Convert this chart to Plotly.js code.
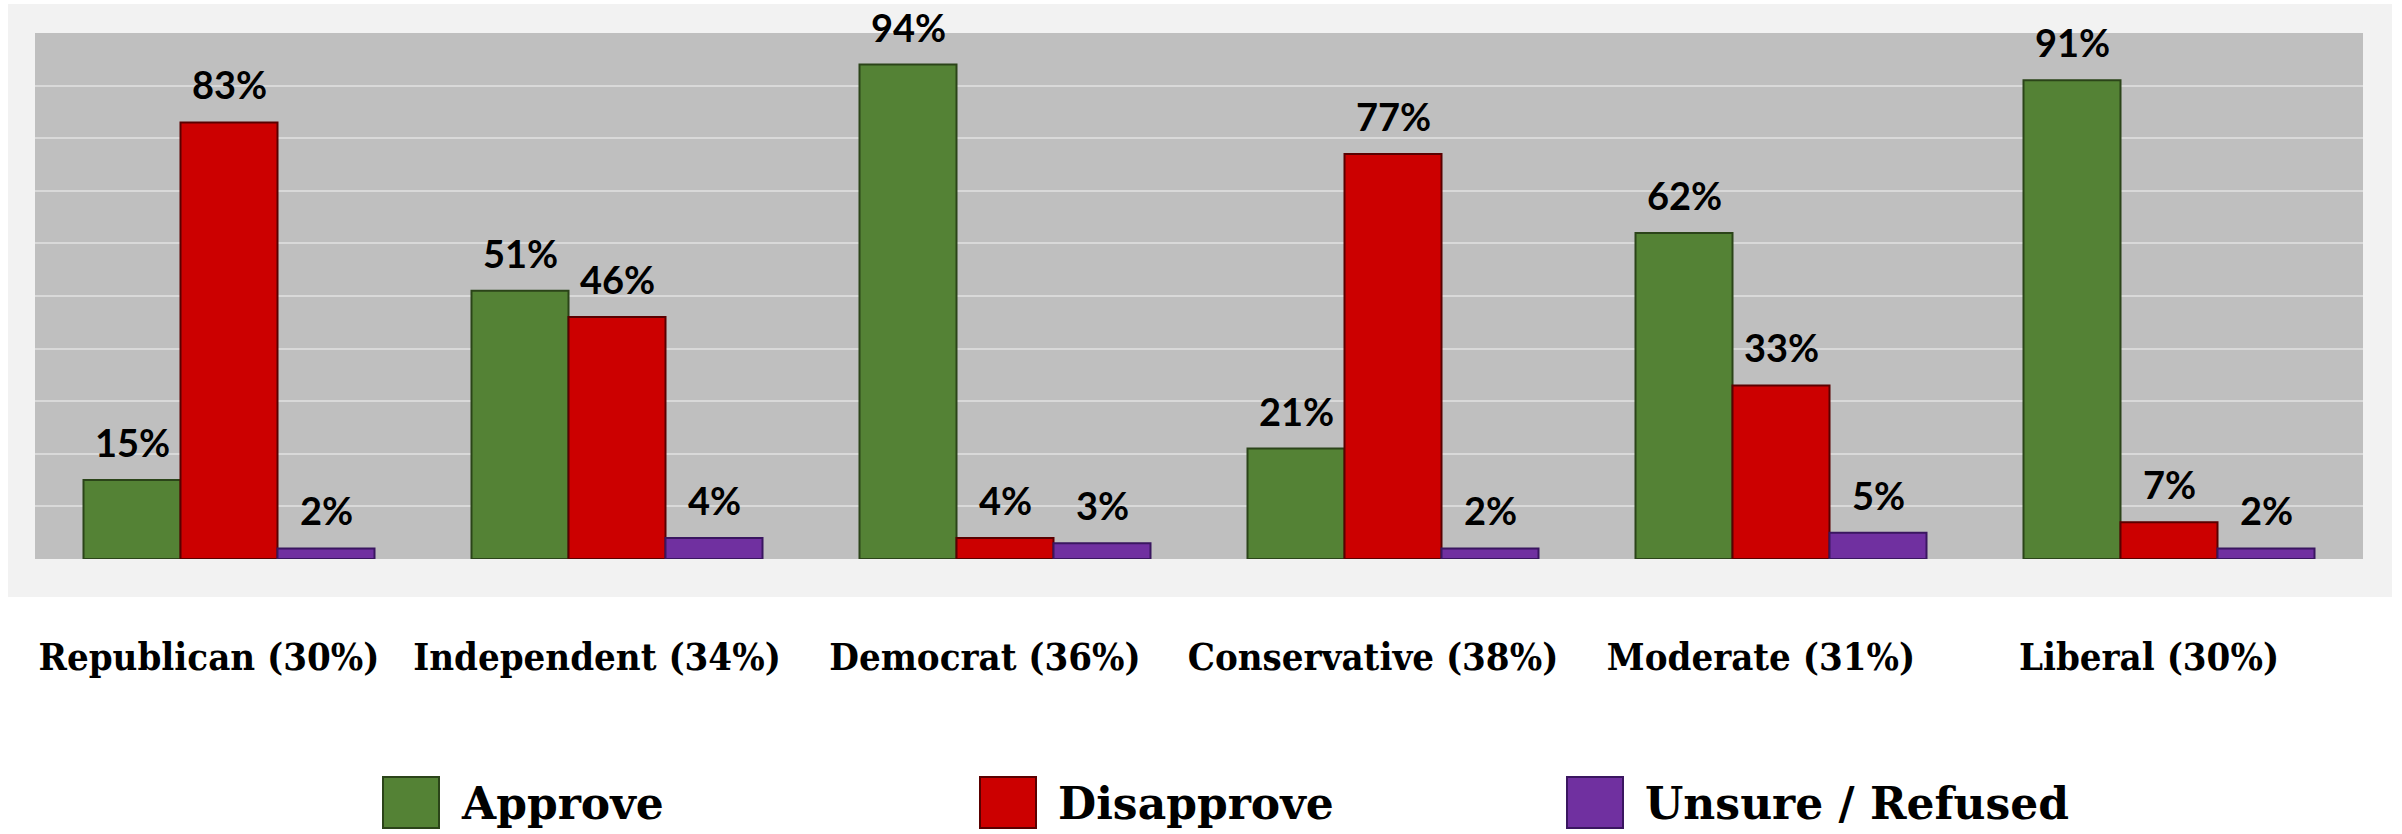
<!DOCTYPE html>
<html>
<head>
<meta charset="utf-8">
<script src="https://cdn.plot.ly/plotly-3.0.1.min.js"></script>
<style>
  html, body { margin: 0; padding: 0; background: #ffffff; }
  #chart { width: 2402px; height: 834px; }
</style>
</head>
<body>
<div id="chart"></div>
<script>
// ---- Data ----
const categories = ["Republican (30%)", "Independent (34%)", "Democrat (36%)", "Conservative (38%)", "Moderate (31%)", "Liberal (30%)"];
const seriesNames = ["Approve", "Disapprove", "Unsure / Refused"];
const approve    = [15, 51, 94, 21, 62, 91];
const disapprove = [83, 46, 4, 77, 33, 7];
const unsure     = [2, 4, 3, 2, 5, 2];
const seriesValues = [approve, disapprove, unsure];

// ---- Styles ----
const colors = ["#548235", "#cc0000", "#7030a0"];
const edgeColors = ["#2b4419", "#5a0000", "#3a1660"];

// ---- Geometry of the figure (layout only) ----
const W = 2402, H = 834;
const M = { l: 35, r: 39, t: 33, b: 275 };
const plotW = W - M.l - M.r;
const plotH = H - M.t - M.b;
const bargap = 0.25;
const px = x => (x - M.l) / plotW;          // pixel -> paper x
const py = y => (H - M.b - y) / plotH;      // pixel -> paper y

const catW = plotW / categories.length;
const barW = catW * (1 - bargap) / seriesNames.length;

const serifWide = "'DejaVu Serif', Georgia, serif";
const serifCond = "'DejaVu Serif Condensed', 'DejaVu Serif', Georgia, serif";

const traces = seriesNames.map((name, i) => ({
  type: "bar",
  name: name,
  x: categories,
  y: seriesValues[i],
  marker: { color: colors[i], line: { color: edgeColors[i], width: 2 } },
  hoverinfo: "x+y+name",
  showlegend: false
}));

// Value labels above bars
const annotations = [];
seriesValues.forEach((vals, i) => {
  vals.forEach((v, j) => {
    annotations.push({
      x: categories[j], y: v, xref: "x", yref: "y",
      text: v + "%", showarrow: false,
      xanchor: "center", yanchor: "bottom",
      xshift: (i - 1) * barW, yshift: 13,
      font: { family: "Lato, 'Open Sans', sans-serif", size: 38, color: "#000000", weight: 700 }
    });
  });
});

// Custom legend (big swatches)
const legendSwatchX = [383, 980, 1567];
const swW = 56, swTop = 777, swBot = 828;
const shapes = [
  // light grey outer panel
  { type: "rect", xref: "paper", yref: "paper", layer: "below",
    x0: px(8), x1: px(2392), y0: py(597), y1: py(4),
    fillcolor: "#f2f2f2", line: { width: 0 } },
  // plot area
  { type: "rect", xref: "paper", yref: "paper", layer: "below",
    x0: 0, x1: 1, y0: 0, y1: 1,
    fillcolor: "#bfbfbf", line: { width: 0 } }
];
seriesNames.forEach((name, i) => {
  const x0 = legendSwatchX[i];
  shapes.push({ type: "rect", xref: "paper", yref: "paper",
    x0: px(x0), x1: px(x0 + swW), y0: py(swBot), y1: py(swTop),
    fillcolor: colors[i], line: { color: edgeColors[i], width: 2 } });
  annotations.push({
    xref: "paper", yref: "paper", x: px(x0 + swW + 20), y: py(803),
    xanchor: "left", yanchor: "middle", showarrow: false,
    text: name,
    font: { family: serifWide, size: 44, color: "#000000", weight: 700 }
  });
});

const layout = {
  width: W, height: H,
  margin: M,
  paper_bgcolor: "#ffffff",
  plot_bgcolor: "rgba(0,0,0,0)",
  barmode: "group",
  bargap: bargap,
  bargroupgap: 0,
  showlegend: false,
  xaxis: {
    type: "category",
    showgrid: false, zeroline: false, showline: false, ticks: "",
    tickfont: { family: serifCond, size: 38, color: "#000000", weight: 700 },
    ticklabelstandoff: 72,
    ticklabelshift: -20
  },
  yaxis: {
    range: [0, 100], dtick: 10,
    showticklabels: false, ticks: "",
    showgrid: true, gridcolor: "#d9d9d9", gridwidth: 2,
    zeroline: false, showline: false
  },
  shapes: shapes,
  annotations: annotations
};

Plotly.newPlot("chart", traces, layout, { displayModeBar: false, staticPlot: true });
</script>
</body>
</html>
